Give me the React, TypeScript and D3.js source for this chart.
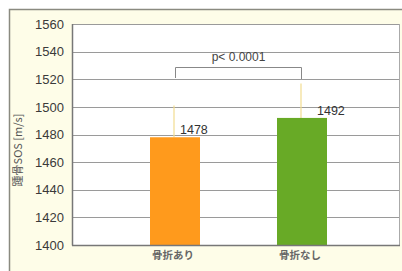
import React from "react";
import * as d3 from "d3";

const categories = ["骨折あり", "骨折なし"];
const values = [1478, 1492];
const errorTops = [1501, 1517];
const barColors = ["#ff9a1c", "#68aa26"];
const yTicks = [1400, 1420, 1440, 1460, 1480, 1500, 1520, 1540, 1560];
const pLabel = "p< 0.0001";
const yLabel = "踵骨SOS [m/s]";

export default function App() {
  const W = 402, H = 271;
  const plotL = 72, plotR = 400, plotT = 24, plotB = 245;
  const y = d3.scaleLinear().domain([1400, 1560]).range([plotB, plotT]);
  const x = d3.scalePoint().domain(categories).range([175, 302]);
  const bw = 50;
  const labelDx = [5, 15];
  const cx = (c: string) => x(c) as number;
  const bracketY = 67;
  return (
    <svg width={W} height={H} style={{ position: "absolute", left: 0, top: 0 }}>
      <rect x={0} y={0} width={W} height={H} fill="#ffffff" />
      <rect x={9.5} y={9.5} width={W + 10} height={H + 10} fill="#fefde8" stroke="#8a8a80" strokeWidth={1.5} />
      <rect x={plotL} y={plotT} width={plotR - plotL} height={plotB - plotT} fill="#ffffff" />
      {yTicks.map((t) => (
        <g key={t}>
          <line x1={plotL} x2={plotR} y1={Math.round(y(t)) + 0.5} y2={Math.round(y(t)) + 0.5} stroke="#9a9a9a" strokeWidth={1} />
          <text x={64} y={y(t)} dy="0.36em" textAnchor="end" fontFamily="Liberation Sans, Arial, sans-serif" fontSize={13} fill="#3a3a3a">{t}</text>
        </g>
      ))}
      <line x1={plotR - 0.5} x2={plotR - 0.5} y1={plotT} y2={plotB} stroke="#aaaaaa" strokeWidth={1} />
      {categories.map((c, i) => (
        <g key={c}>
          <line x1={cx(c) - 1} x2={cx(c) - 1} y1={y(errorTops[i])} y2={y(values[i])} stroke="#f2dc90" strokeWidth={1.2} />
          <rect x={cx(c) - bw / 2} y={y(values[i])} width={bw} height={plotB - y(values[i])} fill={barColors[i]} />
          <text x={cx(c) + labelDx[i]} y={y(values[i]) - 3} fontFamily="Liberation Sans, Arial, sans-serif" fontSize={12.5} fill="#333">{values[i]}</text>
          <text x={cx(c) - 2} y={259} textAnchor="middle" fontFamily="Noto Sans CJK JP, sans-serif" fontSize={10.5} fontWeight={700} fill="#666">{c}</text>
        </g>
      ))}
      <line x1={plotL + 0.5} x2={plotL + 0.5} y1={plotT} y2={plotB + 0.5} stroke="#777" strokeWidth={1.5} />
      <line x1={plotL} x2={plotR} y1={plotB + 0.5} y2={plotB + 0.5} stroke="#777" strokeWidth={1.5} />
      <path d={`M${cx(categories[0]) + 0.5},${bracketY + 11} V${bracketY + 0.5} H${cx(categories[1]) - 0.5} V${bracketY + 12}`} fill="none" stroke="#888" strokeWidth={1} />
      <text x={(cx(categories[0]) + cx(categories[1])) / 2} y={bracketY - 6} textAnchor="middle" fontFamily="Liberation Sans, Arial, sans-serif" fontSize={12} fill="#444">{pLabel}</text>
      <text transform={`translate(22,150) rotate(-90)`} textAnchor="middle" fontFamily="Noto Sans CJK JP, sans-serif" fontSize={11} fill="#555">{yLabel}</text>
    </svg>
  );
}
